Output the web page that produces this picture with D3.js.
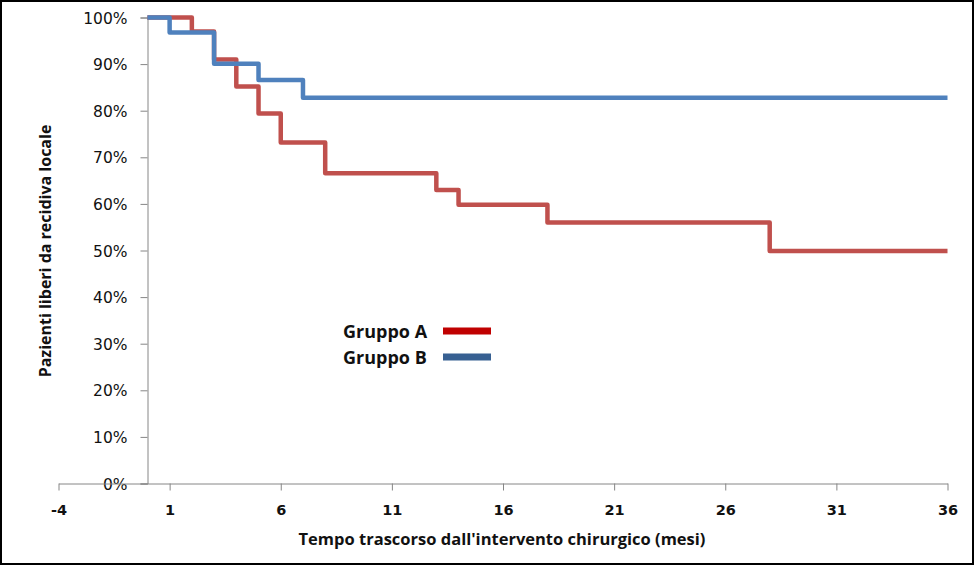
<!DOCTYPE html>
<html>
<head>
<meta charset="utf-8">
<script src="https://cdn.jsdelivr.net/npm/d3@7"></script>
<style>
  html, body { margin: 0; padding: 0; background: #fff; }
  svg { display: block; }
</style>
</head>
<body>
<div id="chart"></div>
<script>
// time (months) where each step starts, and survival % from there on
const groupATimes = [0, 2, 3, 4, 5, 6, 8, 13, 14, 18, 28, 36];
const groupAValues = [100, 97, 91, 85.2, 79.4, 73.2, 66.6, 63.0, 59.8, 56.0, 49.9, 49.9];
const groupBTimes = [0, 1, 3, 5, 7, 36];
const groupBValues = [100, 96.8, 90.1, 86.6, 82.8, 82.8];

const xTicks = [-4, 1, 6, 11, 16, 21, 26, 31, 36];
const yTicks = [0, 10, 20, 30, 40, 50, 60, 70, 80, 90, 100];
const seriesNames = ['Gruppo A', 'Gruppo B'];

const width = 975;
const height = 566;

const svg = d3.select('#chart')
  .append('svg')
  .attr('width', width)
  .attr('height', height)
  .attr('viewBox', `0 0 ${width} ${height}`);

svg.append('rect')
  .attr('x', 1).attr('y', 1)
  .attr('width', width - 3).attr('height', height - 3)
  .attr('fill', '#fff')
  .attr('stroke', '#000')
  .attr('stroke-width', 2);

const xScale = d3.scaleLinear().domain([-4, 36]).range([58.5, 947.5]);
const yScale = d3.scaleLinear().domain([0, 100]).range([483.5, 17.5]);

const axisColor = '#868686';

// y axis sits at x = 0
const yAxis = svg.append('g')
  .attr('transform', `translate(${Math.round(xScale(0)) + 0.5}, 0)`)
  .call(d3.axisLeft(yScale).tickValues(yTicks).tickSize(7).tickPadding(13)
    .tickFormat((d) => d + '%'));
yAxis.select('.domain').attr('stroke', axisColor);
yAxis.selectAll('.tick line').attr('stroke', axisColor);
yAxis.selectAll('.tick text')
  .attr('font-family', 'DejaVu Sans, sans-serif')
  .attr('font-size', 15.5)
  .attr('fill', '#111')
  .attr('dy', '0.36em');

const xAxis = svg.append('g')
  .attr('transform', `translate(0, ${yScale(0)})`)
  .call(d3.axisBottom(xScale).tickValues(xTicks).tickSizeInner(7).tickSizeOuter(0).tickPadding(14)
    .tickFormat((d) => String(d)));
xAxis.select('.domain').attr('stroke', axisColor);
xAxis.selectAll('.tick line').attr('stroke', axisColor);
xAxis.selectAll('.tick text')
  .attr('font-family', 'DejaVu Sans, sans-serif')
  .attr('font-weight', 'bold')
  .attr('font-size', 14.5)
  .attr('fill', '#111');

// step lines
const line = d3.line()
  .x((d) => xScale(d[0]))
  .y((d) => yScale(d[1]))
  .curve(d3.curveStepAfter);

svg.append('path')
  .datum(d3.zip(groupATimes, groupAValues))
  .attr('d', line)
  .attr('fill', 'none')
  .attr('stroke', '#C0504D')
  .attr('stroke-width', 4.5)
  .attr('stroke-linejoin', 'round');

svg.append('path')
  .datum(d3.zip(groupBTimes, groupBValues))
  .attr('d', line)
  .attr('fill', 'none')
  .attr('stroke', '#4F81BD')
  .attr('stroke-width', 4.5)
  .attr('stroke-linejoin', 'round');

// legend
const legendColors = ['#C00000', '#376092'];
const legend = svg.append('g');
seriesNames.forEach((name, i) => {
  const y = 331 + i * 26;
  legend.append('text')
    .attr('x', 343)
    .attr('y', y + 6.5)
    .attr('font-family', 'Open Sans, sans-serif')
    .attr('font-weight', 'bold')
    .attr('font-size', 18)
    .attr('fill', '#111')
    .text(name);
  legend.append('line')
    .attr('x1', 443).attr('x2', 491)
    .attr('y1', y).attr('y2', y)
    .attr('stroke', legendColors[i])
    .attr('stroke-width', 7);
});

// axis titles
svg.append('text')
  .attr('x', 502)
  .attr('y', 545)
  .attr('text-anchor', 'middle')
  .attr('font-family', 'Open Sans, sans-serif')
  .attr('font-weight', 'bold')
  .attr('font-size', 16.5)
  .attr('fill', '#111')
  .text("Tempo trascorso dall'intervento chirurgico (mesi)");

svg.append('text')
  .attr('transform', 'translate(51, 251) rotate(-90)')
  .attr('text-anchor', 'middle')
  .attr('font-family', 'Open Sans, sans-serif')
  .attr('font-weight', 'bold')
  .attr('font-size', 16)
  .attr('fill', '#111')
  .text('Pazienti liberi da recidiva locale');
</script>
</body>
</html>
